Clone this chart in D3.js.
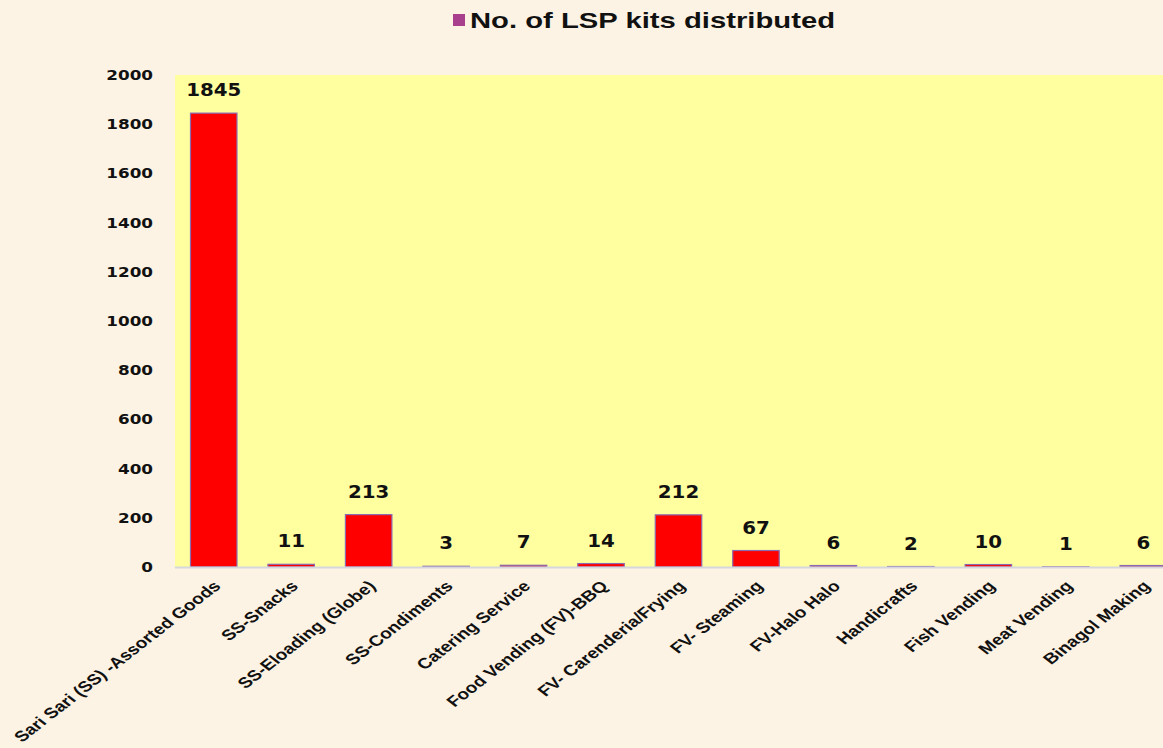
<!DOCTYPE html>
<html><head><meta charset="utf-8">
<script src="https://cdn.jsdelivr.net/npm/d3@7"></script>
<style>body{margin:0;background:#FDF3E4;}svg{display:block;}</style>
</head><body>
<svg id="c" width="1163" height="748"></svg>
<script>
const categories = ["Sari Sari (SS) -Assorted Goods","SS-Snacks","SS-Eloading (Globe)","SS-Condiments","Catering Service","Food Vending (FV)-BBQ","FV- Carenderia/Frying","FV- Steaming","FV-Halo Halo","Handicrafts","Fish Vending","Meat Vending","Binagol Making"];
const values = [1845,11,213,3,7,14,212,67,6,2,10,1,6];
const yTicks = [0,200,400,600,800,1000,1200,1400,1600,1800,2000];
const seriesName = "No. of LSP kits distributed";

(function(){
const svg = d3.select("#c");
svg.append("rect").attr("width",1163).attr("height",748).attr("fill","#FDF3E4");

const pLeft=175, pTop=75, pBottom=567, pRight=1182;
const x = d3.scaleBand().domain(categories).range([pLeft,pRight]).paddingInner(0.4).paddingOuter(0.2);
const y = d3.scaleLinear().domain([0,2000]).range([pBottom,pTop]);

svg.append("rect").attr("x",pLeft).attr("y",pTop).attr("width",pRight-pLeft).attr("height",pBottom-pTop).attr("fill","#FFFFA0");

svg.append("g").selectAll("rect").data(values).join("rect")
  .attr("x",(d,i)=>x(categories[i]))
  .attr("y",d=>y(d))
  .attr("width",x.bandwidth())
  .attr("height",d=>pBottom-y(d))
  .attr("fill","#FF0000")
  .attr("stroke","#8A6AB0").attr("stroke-width",1.2);

svg.append("line").attr("x1",pLeft).attr("x2",1163).attr("y1",pBottom+0.5).attr("y2",pBottom+0.5)
  .attr("stroke","#D6D6DE").attr("stroke-width",2);

const ga = svg.append("g");
ga.selectAll("text").data(yTicks).join("text")
  .attr("transform",d=>`translate(153,${y(d)}) scale(1.2,1)`)
  .attr("text-anchor","end").attr("dy","0.36em")
  .attr("font-family","DejaVu Sans").attr("font-weight","bold")
  .attr("font-size","14px").attr("fill","#111").text(d=>d3.format("d")(d));

svg.append("g").selectAll("text").data(values).join("text")
  .attr("transform",(d,i)=>`translate(${x(categories[i])+x.bandwidth()/2},${y(d)-17}) scale(1.1,1)`)
  .attr("text-anchor","middle")
  .attr("font-family","DejaVu Sans").attr("font-weight","bold").attr("font-size","18px")
  .attr("fill","#111").text(d=>d);

svg.append("g").selectAll("text").data(categories).join("text")
  .attr("transform",d=>`translate(${x(d)+x.bandwidth()/2+8},${pBottom+20}) scale(1.28,1) rotate(-45)`)
  .attr("text-anchor","end")
  .attr("font-family","Liberation Sans, Arial").attr("font-weight","bold").attr("font-size","15px")
  .attr("fill","#111").text(d=>d);

const lg = svg.append("g");
lg.append("rect").attr("x",453).attr("y",14).attr("width",12).attr("height",12).attr("fill","#A8408E");
lg.append("text").attr("transform","translate(470,28) scale(1.33,1)").attr("font-family","Liberation Sans, Arial")
  .attr("font-weight","bold").attr("font-size","22px").attr("fill","#111").text(seriesName);
})();
</script>
</body></html>
